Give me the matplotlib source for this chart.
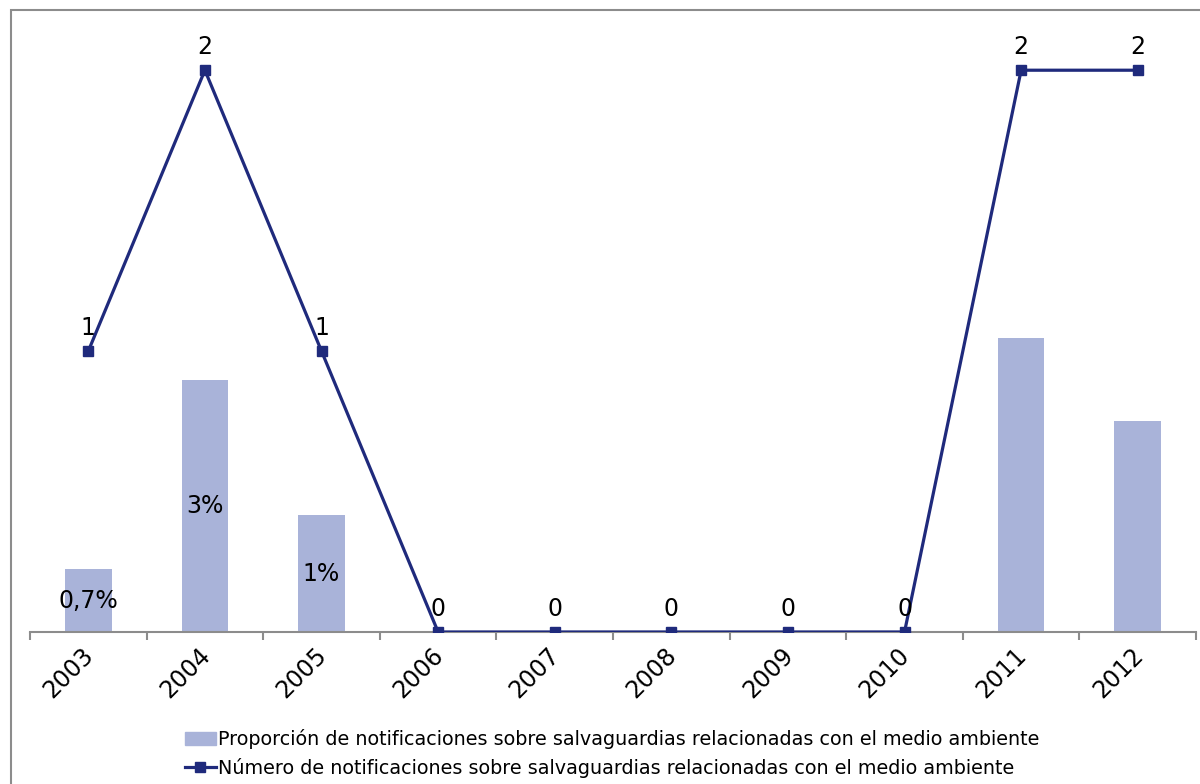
import matplotlib.pyplot as plt
import matplotlib.transforms as mtransforms
from matplotlib.patches import Rectangle
from matplotlib.lines import Line2D

# Datos
anios = ["2003", "2004", "2005", "2006", "2007", "2008", "2009", "2010", "2011", "2012"]
proporcion = [0.7, 2.8, 1.3, 0, 0, 0, 0, 0, 3.27, 2.35]
etiquetas_prop = ["0,7%", "3%", "1%", "", "", "", "", "", "", ""]
numero = [1, 2, 1, 0, 0, 0, 0, 0, 2, 2]

color_barra = "#A9B3D9"
color_linea = "#1F2A7C"

fig = plt.figure(figsize=(12, 7.84), dpi=100)
ax_b = fig.add_axes([0.025, 0.1939, 0.9717, 0.7882])
ax_l = ax_b.twinx()

x = list(range(len(anios)))

# Barras (eje secundario oculto)
ax_b.bar(x, proporcion, width=0.4, color=color_barra, zorder=1)
ax_b.set_ylim(0, 6.87)
for xi, v, lab in zip(x, proporcion, etiquetas_prop):
    if lab:
        ax_b.text(xi, v / 2, lab, ha="center", va="center", fontsize=17, color="black")

# Línea
ax_l.plot(x, numero, color=color_linea, lw=2.3, marker="s", markersize=6.5, zorder=3)
ax_l.set_ylim(0, 2.2)
for xi, v in zip(x, numero):
    ax_l.annotate(str(v), (xi, v), xytext=(0, 8), textcoords="offset points",
                  ha="center", va="bottom", fontsize=17, color="black")

ax_b.set_xlim(-0.5, len(anios) - 0.5)
for a in (ax_b, ax_l):
    for s in ("top", "right", "left"):
        a.spines[s].set_visible(False)
    a.set_yticks([])
ax_l.spines["bottom"].set_visible(False)
ax_b.spines["bottom"].set_color("#8C8C8C")
ax_b.spines["bottom"].set_linewidth(1.5)

ax_b.set_xticks(x)
ax_b.set_xticklabels(anios, rotation=45, ha="right", va="top", rotation_mode="anchor", fontsize=17)
ax_b.tick_params(axis="x", which="major", length=0, pad=8)
ax_b.set_xticks([i - 0.5 for i in range(len(anios) + 1)], minor=True)
ax_b.tick_params(axis="x", which="minor", length=6, width=1.5, color="#8C8C8C")
desplazamiento = mtransforms.ScaledTranslation(-7 / 100, 0, fig.dpi_scale_trans)
for lbl in ax_b.get_xticklabels():
    lbl.set_transform(lbl.get_transform() + desplazamiento)

# Leyenda
handles = [
    Rectangle((0, 0), 1, 1, color=color_barra),
    Line2D([0], [0], color=color_linea, lw=2.3, marker="s", markersize=6.5),
]
labels = [
    "Proporción de notificaciones sobre salvaguardias relacionadas con el medio ambiente",
    "Número de notificaciones sobre salvaguardias relacionadas con el medio ambiente",
]
fig.legend(handles, labels, loc="lower center", bbox_to_anchor=(0.51, -0.014), frameon=False,
           fontsize=13.8, handlelength=1.65, handletextpad=0.1, labelspacing=0.45,
           alignment="left")

# Marco exterior
fig.patches.append(Rectangle((11 / 1200, -0.1), 1.1, 1 - 10 / 784 + 0.1, transform=fig.transFigure,
                             fill=False, edgecolor="#8C8C8C", lw=1.5))

fig.savefig("out.png", dpi=100)
